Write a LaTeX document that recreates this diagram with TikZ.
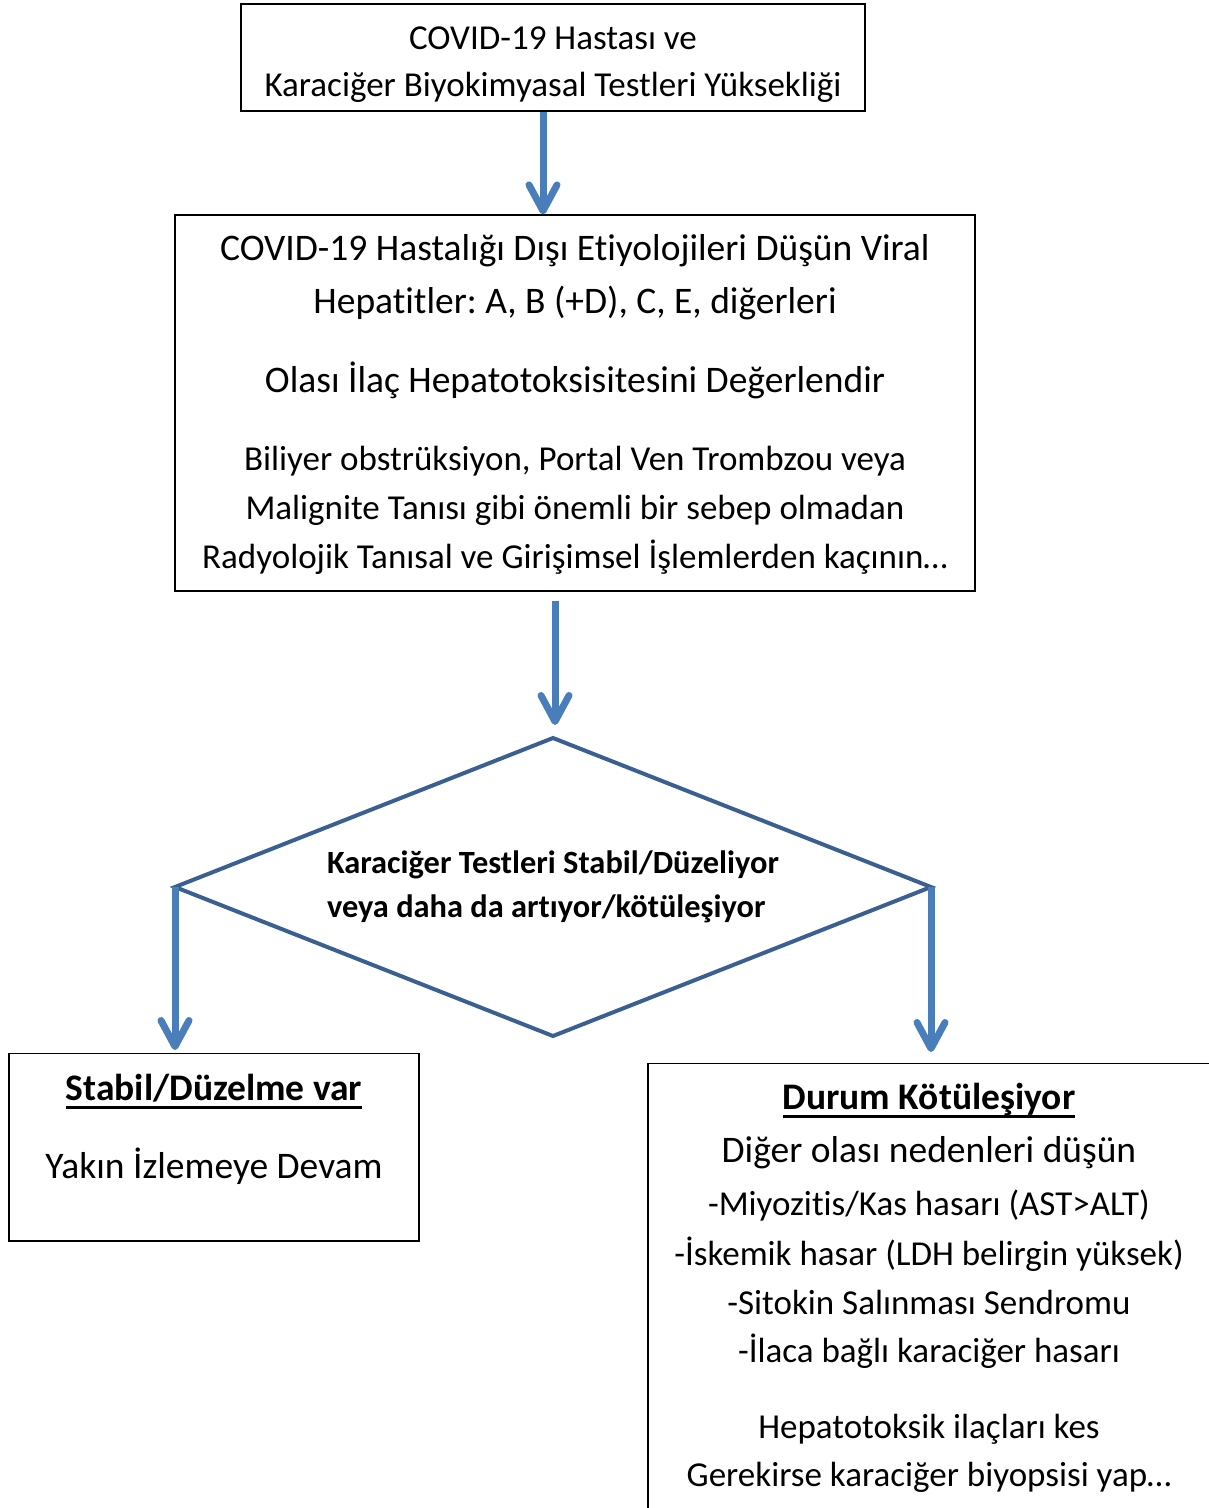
\documentclass[tikz,border=0pt]{standalone}
\usepackage{fontspec}
\setmainfont{Carlito}[Ligatures=NoCommon]
\usetikzlibrary{shapes.geometric,arrows.meta}
\definecolor{arrowblue}{RGB}{74,126,187}
\definecolor{edgeblue}{RGB}{58,96,146}
\frenchspacing
\newcommand\smalltext{\fontsize{35}{49}\selectfont}
\newcommand\headline[1]{\setbox0\hbox{\bfseries #1}\rlap{\rule[-8pt]{\wd0}{2.5pt}}\box0}

\begin{document}
\begin{tikzpicture}[x=1pt,y=-1pt,
  box/.style={draw=black,line width=1.2pt,align=center,inner sep=0pt},
  flow/.style={arrowblue,line width=7pt,-{Straight Barb[length=26pt,width=28pt,round]}},
  decision/.style={diamond,draw=edgeblue,line width=4pt,outer sep=0pt,inner sep=0pt,align=left,aspect=2.537}]
\useasboundingbox (0,0) rectangle (1209,1508);
\clip (0,0) rectangle (1209,1508);

\node[box,minimum width=624,minimum height=107,font=\fontsize{35}{47}\selectfont] (start) at (553,57.5)
  {\rule{0pt}{37pt}COVID-19 Hastası ve\\Karaciğer Biyokimyasal Testleri Yüksekliği};

\node[box,minimum width=800,minimum height=376,font=\fontsize{37.5}{53}\selectfont] (check) at (575,403)
  {\rule{0pt}{28pt}COVID-19 Hastalığı Dışı Etiyolojileri Düşün Viral\\
   Hepatitler: A, B (+D), C, E, diğerleri\\[26pt]
   Olası İlaç Hepatotoksisitesini Değerlendir\\[25pt]
   \smalltext Biliyer obstrüksiyon, Portal Ven Trombzou veya\\[-4pt]
   \smalltext Malignite Tanısı gibi önemli bir sebep olmadan\\[-4pt]
   \smalltext Radyolojik Tanısal ve Girişimsel İşlemlerden kaçının…};

\node[decision,minimum width=756,minimum height=298,font=\bfseries\fontsize{32.4}{44}\selectfont] (trend) at (553,887)
  {Karaciğer Testleri Stabil/Düzeliyor\\veya daha da artıyor/kötüleşiyor};

\node[box,anchor=north,minimum width=410,inner ysep=21pt,font=\fontsize{37.5}{78}\selectfont] (stable) at (214,1053)
  {\headline{Stabil/Düzelme var}\\Yakın İzlemeye Devam\rule[-41pt]{0pt}{41pt}};

\node[box,anchor=north,minimum width=562,inner ysep=20pt,font=\fontsize{37.5}{53}\selectfont] (worse) at (929,1063)
  {\headline{Durum Kötüleşiyor}\\
   Diğer olası nedenleri düşün\\
   \smalltext -Miyozitis/Kas hasarı (AST>ALT)\\[-3pt]
   \smalltext -İskemik hasar (LDH belirgin yüksek)\\[-4pt]
   \smalltext -Sitokin Salınması Sendromu\\[-5pt]
   \smalltext -İlaca bağlı karaciğer hasarı\\[23pt]
   \smalltext Hepatotoksik ilaçları kes\\[-5pt]
   \smalltext Gerekirse karaciğer biyopsisi yap…\rule[-40pt]{0pt}{40pt}};

% arrows
\draw[flow] ([xshift=-10pt]start.south) -- ([xshift=-10pt]start.south |- check.north);
\draw[flow,shorten <=9pt,shorten >=13pt] ([xshift=-20pt]check.south) -- ([xshift=-20pt]check.south |- trend.north);
\draw[flow,shorten >=3pt] (trend.west) -- (trend.west |- stable.north);
\draw[flow,shorten >=11pt] (trend.east) -- (trend.east |- worse.north);
\end{tikzpicture}
\end{document}
